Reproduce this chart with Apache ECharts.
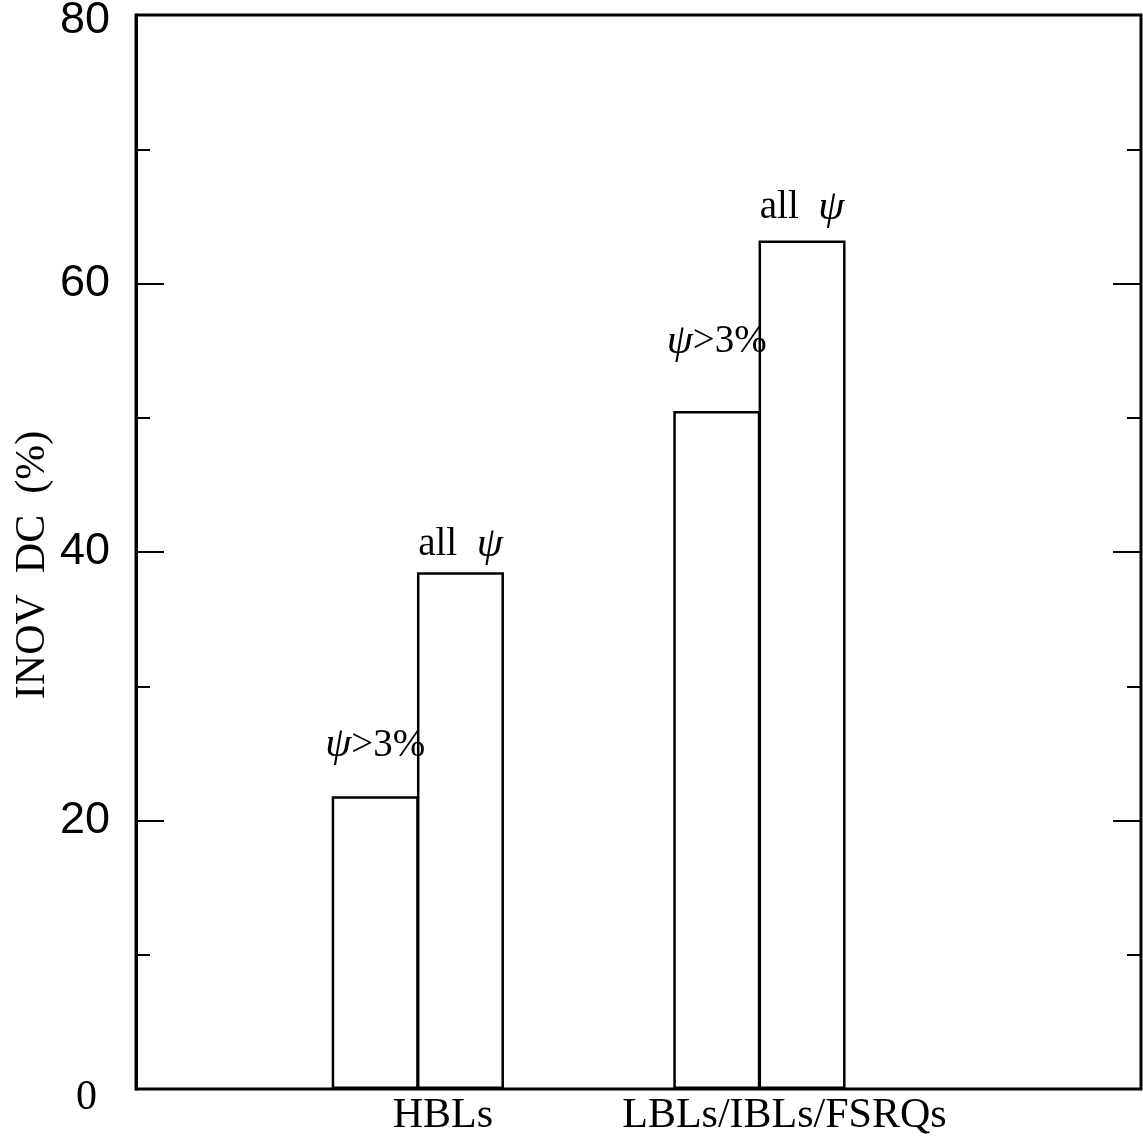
<!DOCTYPE html>
<html>
<head>
<meta charset="utf-8">
<script src="https://cdn.jsdelivr.net/npm/echarts@6/dist/echarts.min.js"></script>
<style>html,body{margin:0;padding:0;background:#fff}#chart{width:1143px;height:1141px}</style>
</head>
<body>
<div id="chart"></div>
<script>
var groups = ['HBLs', 'LBLs/IBLs/FSRQs'];
var groupPos = [1, 2];
var dcAbove3 = [21.8, 50.5];   // psi > 3%
var dcAll = [38.5, 63.2];      // all psi
var yTicks = [0, 20, 40, 60, 80];

var serif = '"Liberation Serif", "DejaVu Serif", serif';
var labelRich = {
    i: { fontFamily: serif, fontStyle: 'italic', fontSize: 42, color: '#000' },
    n: { fontFamily: serif, fontSize: 39, color: '#000' }
};

function barData(vals, dist) {
    return vals.map(function (v, k) {
        return { value: [groupPos[k], v], label: { distance: dist[k] } };
    });
}

var chart = echarts.init(document.getElementById('chart'));
chart.setOption({
    animation: false,
    backgroundColor: '#fff',
    grid: {
        left: 136, right: 2, top: 15, bottom: 52, outerBoundsMode: 'none',
        show: true, borderColor: '#000', borderWidth: 3, backgroundColor: 'transparent'
    },
    xAxis: {
        type: 'value', min: 0.175, max: 3.117,
        axisLine: { show: false }, axisTick: { show: false }, splitLine: { show: false },
        axisLabel: {
            customValues: groupPos,
            formatter: function (v) { var k = groupPos.indexOf(v); return k < 0 ? '' : groups[k]; },
            fontFamily: serif, fontSize: 42, color: '#000', margin: 6, padding: [0, 0, 0, 50]
        }
    },
    yAxis: [{
        type: 'value', min: yTicks[0], max: yTicks[yTicks.length - 1], interval: 20,
        name: 'INOV  DC  (%)', nameLocation: 'middle', nameGap: 82, nameMoveOverlap: false,
        nameTextStyle: { fontFamily: serif, fontSize: 42, color: '#000', padding: [0, 26, 0, 0] },
        axisLine: { show: true, lineStyle: { color: '#000', width: 3 } },
        axisTick: { inside: true, length: 28, lineStyle: { color: '#000', width: 2 } },
        minorTick: { show: true, splitNumber: 2, length: 14, lineStyle: { color: '#000', width: 2 } },
        splitLine: { show: false },
        axisLabel: {
            fontFamily: '"Liberation Sans", Arial, sans-serif', fontSize: 45, color: '#000', margin: 26,
            formatter: function (v) {
                if (v === 0) return '{z|0}';
                if (v === 80) return '{t|80}';
                return String(v);
            },
            rich: {
                z: { fontFamily: serif, fontSize: 42, color: '#000', padding: [18, 13, 0, 0] },
                t: { fontFamily: '"Liberation Sans", Arial, sans-serif', fontSize: 45, color: '#000', padding: [12, 0, 0, 0] }
            }
        }
    }, {
        type: 'value', position: 'right', min: yTicks[0], max: yTicks[yTicks.length - 1], interval: 20,
        axisLine: { show: false },
        axisTick: { inside: true, length: 28, lineStyle: { color: '#000', width: 2 } },
        minorTick: { show: true, splitNumber: 2, length: 14, lineStyle: { color: '#000', width: 2 } },
        splitLine: { show: false },
        axisLabel: { show: false }
    }],
    series: [{
        name: 'psi>3%', type: 'bar', barWidth: 87, barGap: '-2%',
        itemStyle: { color: '#fff', borderColor: '#000', borderWidth: 2.5 },
        label: { show: true, position: 'top', formatter: '{i|ψ}{n|>3%}', rich: labelRich },
        data: barData(dcAbove3, [30, 48])
    }, {
        name: 'all psi', type: 'bar', barWidth: 87, barGap: '-2%',
        itemStyle: { color: '#fff', borderColor: '#000', borderWidth: 2.5 },
        label: { show: true, position: 'top', formatter: '{n|all  }{i|ψ}', rich: labelRich },
        data: barData(dcAll, [6, 12])
    }]
});
</script>
</body>
</html>
